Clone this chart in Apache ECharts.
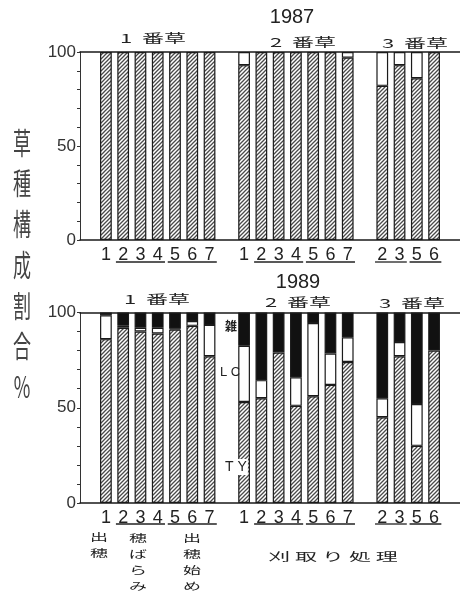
<!DOCTYPE html>
<html><head><meta charset="utf-8">
<script src="https://cdn.jsdelivr.net/npm/echarts@6/dist/echarts.min.js"></script>
<style>html,body{margin:0;padding:0;background:#fff}#c{width:460px;height:598px}</style>
</head><body><div id="c"></div>
<script>
// ---- data ----
const categories = ['', '1','2','3','4','5','6','7', '', '1','2','3','4','5','6','7', '', '2','3','5','6', ''];
const ty1987 = [null,100,100,100,100,100,100,100,null,93,100,100,100,100,100,97,null,82,93,86,100,null];
const lc1987 = [null,0,0,0,0,0,0,0,null,7,0,0,0,0,0,3,null,18,7,14,0,null];
const ty1989 = [null,86,92,90,89,91,93,77,null,53,55,79,51,56,62,74,null,45,77,30,80,null];
const lc1989 = [null,12.5,1,2,3,0.5,2.5,16.5,null,29.5,9.5,0,15,38.5,16.5,13,null,10,7.5,22,0,null];
const weed1989 = [null,1.5,7,8,8,8.5,4.5,6.5,null,17.5,35.5,21,34,5.5,21.5,13,null,45,15.5,48,20,null];
const yTickLabels = [0,50,100];
const underlineGroups = [[2,4,0],[5,7,0],[10,12,0],[13,15,0],[17,18,0],[19,20,0]];
const years = ['1987','1989'];
const cutLabels = ['1  番草','2  番草','3  番草'];
const yTitle = ['草','種','構','成','割','合','%'];

// ---- styles ----
const FF = "'Liberation Sans','Noto Sans CJK JP',sans-serif";
const JP = "'Noto Sans CJK JP',sans-serif";
const INK = '#1a1a1a';

function hatchCanvas(){
  const s = 4, c = document.createElement('canvas');
  c.width = s; c.height = s;
  const g = c.getContext('2d');
  g.fillStyle = '#fff'; g.fillRect(0,0,s,s);
  g.strokeStyle = '#4a4a4a'; g.lineWidth = 1.3;
  g.beginPath();
  g.moveTo(0,s); g.lineTo(s,0);
  g.moveTo(-1,1); g.lineTo(1,-1);
  g.moveTo(s-1,s+1); g.lineTo(s+1,s-1);
  g.stroke();
  return c;
}
const hatch = {image: hatchCanvas(), repeat: 'repeat'};
const nz = v => (v === null || v === 0) ? '-' : v;

const chart = echarts.init(document.getElementById('c'), null, {renderer:'canvas'});

const grids = [
  {left: 80, right: -7, top: 52, height: 188},
  {left: 80, right: -7, top: 312.5, height: 190.5}
];

function xAxes(gi){
  return [
    {type:'category', gridIndex: gi, data: categories, position:'bottom', boundaryGap: true,
     axisLine:{show:true, lineStyle:{color:INK, width:1.5}}, axisTick:{show:false},
     axisLabel:{interval:0, fontSize:18, color:'#222', fontFamily:FF, margin:6}},
    {type:'category', gridIndex: gi, data: categories, position:'top', boundaryGap: true,
     axisLine:{show:true, lineStyle:{color:INK, width:1.5}}, axisTick:{show:false}, axisLabel:{show:false}}
  ];
}
function yAxis(gi){
  return {type:'value', gridIndex: gi, min:0, max:100, interval:10,
    axisLine:{show:true, lineStyle:{color:'#333', width:1}},
    axisTick:{show:true, inside:false, length:3, lineStyle:{color:'#333'}},
    splitLine:{show:false},
    axisLabel:{fontSize:17, color:'#333', fontFamily:FF, margin:4,
      formatter: v => yTickLabels.indexOf(v) >= 0 ? String(v) : ''}};
}
function barSeries(name, xi, yi, stack, data, color){
  return {type:'bar', name, xAxisIndex: xi, yAxisIndex: yi, stack, data: data.map(nz),
    barCategoryGap:'32%', silent:true,
    itemStyle:{color, borderColor:INK, borderWidth:1.2}};
}
function underline(xi, yi, off){
  return {type:'custom', xAxisIndex: xi, yAxisIndex: yi, silent:true, clip:false,
    data: underlineGroups, encode:{x:[0,1], y:2},
    renderItem: function(params, api){
      const a = api.coord([api.value(0), 0]);
      const b = api.coord([api.value(1), 0]);
      const w = api.size([1,0])[0];
      const y = a[1] + off;
      return {type:'line', shape:{x1:a[0]-w*0.42, y1:y, x2:b[0]+w*0.42, y2:y},
        style:{stroke:'#222', lineWidth:1.3}};
    }};
}

function T(x, y, text, o){
  o = o || {};
  return {type:'text', x, y, z: 100, scaleY: o.sy || 1, silent:true,
    style:{text, fill: o.fill || '#222', fontSize: o.fs || 16, fontFamily: o.ff || JP,
      fontWeight: o.fw || 'normal', align: o.align || 'center', verticalAlign: o.va || 'middle',
      lineHeight: o.lh, backgroundColor: o.bg, padding: o.pad}};
}

const graphics = [
  T(292, 17, years[0], {fs:20, ff:FF}),
  T(298, 282, years[1], {fs:20, ff:FF}),
  T(153, 38, cutLabels[0], {fs:22, sy:0.55}),
  T(303, 42, cutLabels[1], {fs:22, sy:0.55}),
  T(415, 43, cutLabels[2], {fs:22, sy:0.55}),
  T(157, 299, cutLabels[0], {fs:22, sy:0.55}),
  T(298, 302, cutLabels[1], {fs:22, sy:0.55}),
  T(412, 303, cutLabels[2], {fs:22, sy:0.55}),
  T(22, 264.5, yTitle.join('\n'), {fs:18, sy:1.65, lh:24.7, fill:'#444'}),
  T(99, 530, '出\n穂', {fs:18, sy:0.55, lh:28, va:'top'}),
  T(138, 530, '穂\nば\nら\nみ', {fs:18, sy:0.55, lh:29, va:'top'}),
  T(192, 530, '出\n穂\n始\nめ', {fs:18, sy:0.55, lh:29, va:'top'}),
  T(333, 557, '刈 取 り 処 理', {fs:22, sy:0.5}),
  T(231, 326, '雑', {fs:12, fw:'bold'}),
  T(230, 372, 'L C', {fs:13, ff:FF}),
  T(236, 467, 'T Y', {fs:14, ff:FF, bg:'#fff', pad:[1,1]})
];

chart.setOption({
  animation:false,
  backgroundColor:'#fff',
  grid: grids,
  xAxis: [...xAxes(0), ...xAxes(1)],
  yAxis: [yAxis(0), yAxis(1)],
  series: [
    barSeries('TY', 0, 0, 'y87', ty1987, hatch),
    barSeries('LC', 0, 0, 'y87', lc1987, '#fff'),
    underline(0, 0, 22),
    barSeries('TY', 2, 1, 'y89', ty1989, hatch),
    barSeries('LC', 2, 1, 'y89', lc1989, '#fff'),
    barSeries('雑', 2, 1, 'y89', weed1989, '#111'),
    underline(2, 1, 21)
  ],
  graphic: graphics
});
</script></body></html>
